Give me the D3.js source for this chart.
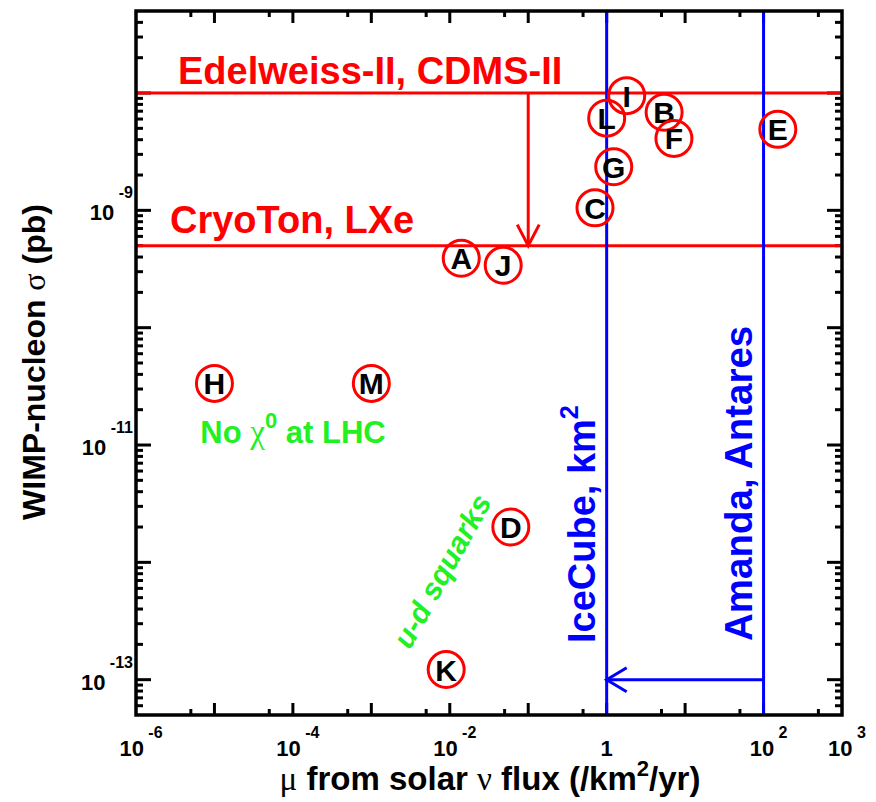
<!DOCTYPE html>
<html><head><meta charset="utf-8">
<script src="https://cdn.jsdelivr.net/npm/d3@7/dist/d3.min.js"></script>
<style>body{margin:0;background:#fff} svg{display:block}</style>
</head><body>
<svg id="c" width="876" height="802"></svg>
<script>
// ---- data ----
const pointLabels = ["I","L","B","F","E","G","C","A","J","H","M","D","K"];
const pointFlux   = [1.8, 1.0, 5.4, 7.2, 152, 1.23, 0.71, 0.014, 0.048, 1.0e-5, 1.0e-3, 0.06, 0.009];
const pointSigma  = [9.5e-9, 6.1e-9, 6.85e-9, 4.1e-9, 4.9e-9, 2.35e-9, 1.05e-9, 3.9e-10, 3.4e-10, 3.35e-11, 3.35e-11, 2.0e-12, 1.22e-13];
const directNames = ["Edelweiss-II, CDMS-II", "CryoTon, LXe"];
const directSigma = [1e-8, 5e-10];
const directArrowFlux = 0.1;
const neutrinoNames = ["IceCube, km", "Amanda, Antares"];
const neutrinoFlux = [1, 100];
const neutrinoArrowSigma = 1e-13;
const xTickValues = [1e-6, 1e-4, 1e-2, 1, 1e2, 1e3];
const xTickExp    = ["-6", "-4", "-2", "", "2", "3"];
const yTickValues = [1e-9, 1e-11, 1e-13];
const yTickExp    = ["-9", "-11", "-13"];

// ---- layout ----
const L = 136, R = 842, T = 11, B = 715;
const FONT = "'Liberation Sans', Arial, Helvetica, sans-serif";
const SERIF = "'Liberation Serif', 'Times New Roman', serif";
const svg = d3.select("#c").style("font-family", FONT);
const x = d3.scaleLog().domain([1e-6, 1e3]).range([L, R]);
const y = d3.scaleLog().domain([5e-14, 5e-8]).range([B, T]);

// ---- ticks ----
const tk = svg.append("g").attr("stroke", "#000").attr("stroke-width", 3);
x.ticks().forEach(v => {
  const m = Math.round(v / Math.pow(10, Math.floor(Math.log10(v) + 1e-9)));
  if (m !== 1 && m !== 5) return;
  const len = m === 1 ? 12 : 6, px = x(v);
  if (px <= L + 1 || px >= R - 1) return;
  tk.append("line").attr("x1", px).attr("x2", px).attr("y1", B).attr("y2", B - len);
  tk.append("line").attr("x1", px).attr("x2", px).attr("y1", T).attr("y2", T + len);
});
y.ticks().forEach(v => {
  const m = Math.round(v / Math.pow(10, Math.floor(Math.log10(v) + 1e-9)));
  const len = m === 1 ? 15 : 7, py = y(v);
  if (py <= T + 1 || py >= B - 1) return;
  tk.append("line").attr("y1", py).attr("y2", py).attr("x1", L).attr("x2", L + len);
  tk.append("line").attr("y1", py).attr("y2", py).attr("x1", R).attr("x2", R - len);
});

// ---- tick labels ----
xTickValues.forEach((v, i) => {
  const t = svg.append("text").attr("x", x(v) + 5).attr("y", 756)
    .attr("text-anchor", "middle").attr("font-weight", "bold").attr("font-size", 22);
  if (xTickExp[i] === "") { t.attr("x", x(v)).text("1"); return; }
  t.append("tspan").text("10");
  t.append("tspan").attr("dy", -18).attr("font-size", 16).text(" " + xTickExp[i]);
});
yTickValues.forEach((v, i) => {
  const t = svg.append("text").attr("x", 133).attr("y", y(v) + 10)
    .attr("text-anchor", "end").attr("font-weight", "bold").attr("font-size", 22);
  t.append("tspan").text("10");
  t.append("tspan").attr("dy", -22).attr("font-size", 16).text(" " + yTickExp[i]);
});

// ---- direct detection limits (red) ----
const red = "#ff0000", blue = "#0000ff", green = "#22f022";
directSigma.forEach(s => {
  svg.append("line").attr("x1", L).attr("x2", R).attr("y1", y(s)).attr("y2", y(s))
    .attr("stroke", red).attr("stroke-width", 3);
});
{
  const ax = x(directArrowFlux), y0 = y(directSigma[0]), y1 = y(directSigma[1]);
  svg.append("line").attr("x1", ax).attr("x2", ax).attr("y1", y0).attr("y2", y1)
    .attr("stroke", red).attr("stroke-width", 3);
  svg.append("path").attr("d", `M${ax - 11},${y1 - 21}L${ax},${y1}L${ax + 11},${y1 - 21}`)
    .attr("fill", "none").attr("stroke", red).attr("stroke-width", 3);
}
const dlab = [[178, 84], [170, 233]];
directNames.forEach((n, i) => {
  svg.append("text").attr("x", dlab[i][0]).attr("y", dlab[i][1])
    .attr("fill", red).attr("font-weight", "bold").attr("font-size", 38).text(n);
});

// ---- neutrino telescopes (blue) ----
neutrinoFlux.forEach(f => {
  svg.append("line").attr("x1", x(f)).attr("x2", x(f)).attr("y1", T).attr("y2", B)
    .attr("stroke", blue).attr("stroke-width", 3);
});
{
  const ay = y(neutrinoArrowSigma), x0 = x(neutrinoFlux[1]), x1 = x(neutrinoFlux[0]);
  svg.append("line").attr("x1", x0).attr("x2", x1).attr("y1", ay).attr("y2", ay)
    .attr("stroke", blue).attr("stroke-width", 3);
  svg.append("path").attr("d", `M${x1 + 20},${ay - 12}L${x1},${ay}L${x1 + 20},${ay + 12}`)
    .attr("fill", "none").attr("stroke", blue).attr("stroke-width", 3);
}
{
  const t1 = svg.append("text").attr("transform", "translate(595,643) rotate(-90)")
    .attr("fill", blue).attr("font-weight", "bold").attr("font-size", 38);
  t1.append("tspan").text(neutrinoNames[0]);
  t1.append("tspan").attr("dy", -17).attr("font-size", 25).text("2");
  svg.append("text").attr("transform", "translate(752,641) rotate(-90)")
    .attr("fill", blue).attr("font-weight", "bold").attr("font-size", 38.5).text(neutrinoNames[1]);
}

// ---- green annotations ----
{
  const t = svg.append("text").attr("x", 293).attr("y", 443).attr("text-anchor", "middle")
    .attr("fill", green).attr("font-weight", "bold").attr("font-size", 31);
  t.append("tspan").text("No ");
  t.append("tspan").attr("font-family", SERIF).attr("font-weight", "normal").attr("font-size", 33).text("χ");
  t.append("tspan").attr("dy", -15).attr("font-size", 22).text("0");
  t.append("tspan").attr("dy", 15).text(" at LHC");
  svg.append("text").attr("transform", "translate(442,571) rotate(-61)")
    .attr("text-anchor", "middle").attr("dy", "0.35em")
    .attr("fill", green).attr("font-weight", "bold").attr("font-style", "italic")
    .attr("font-size", 30).text("u-d squarks");
}

// ---- model points ----
const pts = svg.append("g").selectAll("g").data(pointLabels.map((l, i) => ({l, f: pointFlux[i], s: pointSigma[i]})))
  .join("g").attr("transform", d => `translate(${x(d.f)},${y(d.s)})`);
pts.append("circle").attr("r", 18).attr("fill", "none").attr("stroke", red).attr("stroke-width", 3);
pts.append("text").attr("text-anchor", "middle").attr("y", 11)
  .attr("font-weight", "bold").attr("font-size", 30).text(d => d.l);

// ---- frame ----
svg.append("rect").attr("x", L).attr("y", T).attr("width", R - L).attr("height", B - T)
  .attr("fill", "none").attr("stroke", "#000").attr("stroke-width", 3.5);

// ---- axis titles ----
{
  const t = svg.append("text").attr("x", 490).attr("y", 790).attr("text-anchor", "middle")
    .attr("font-weight", "bold").attr("font-size", 33);
  t.append("tspan").attr("font-family", SERIF).attr("font-weight", "normal").text("μ");
  t.append("tspan").text(" from solar ");
  t.append("tspan").attr("font-family", SERIF).attr("font-weight", "normal").text("ν");
  t.append("tspan").text(" flux (/km");
  t.append("tspan").attr("dy", -14).attr("font-size", 22).text("2");
  t.append("tspan").attr("dy", 14).text("/yr)");
  const u = svg.append("text").attr("transform", "translate(45,362) rotate(-90)")
    .attr("text-anchor", "middle").attr("font-weight", "bold").attr("font-size", 32);
  u.append("tspan").text("WIMP-nucleon ");
  u.append("tspan").attr("font-family", SERIF).attr("font-weight", "normal").text("σ");
  u.append("tspan").text(" (pb)");
}
</script>
</body></html>
